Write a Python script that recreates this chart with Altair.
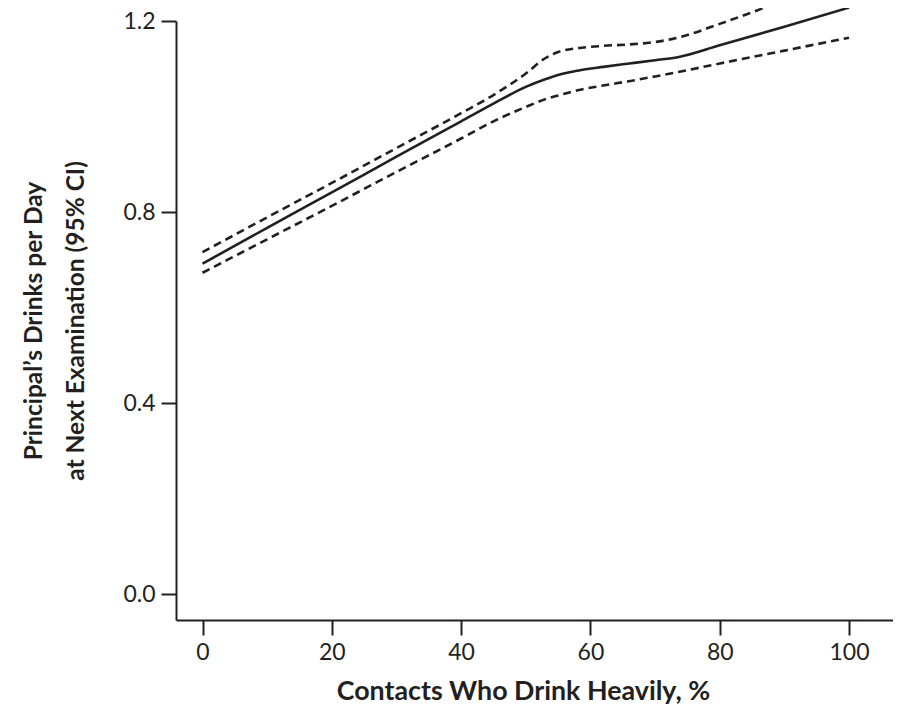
import altair as alt
import pandas as pd

x_vals = [0, 10, 20, 30, 40, 45, 50, 53, 55, 58, 62, 66, 70, 73.5, 80, 90, 100]
mean_vals = [0.692, 0.767, 0.841, 0.916, 0.990, 1.027, 1.062, 1.078, 1.087, 1.096,
             1.104, 1.111, 1.118, 1.124, 1.149, 1.188, 1.228]
upper_vals = [0.716, 0.789, 0.861, 0.934, 1.007, 1.045, 1.090, 1.122, 1.135, 1.143,
              1.148, 1.151, 1.156, 1.165, 1.194, 1.243, 1.290]
lower_vals = [0.673, 0.743, 0.813, 0.884, 0.954, 0.990, 1.020, 1.036, 1.044, 1.055,
              1.065, 1.074, 1.084, 1.093, 1.111, 1.138, 1.165]

x_ticks = [0, 20, 40, 60, 80, 100]
y_ticks = [0.0, 0.4, 0.8, 1.2]

rows = []
for name, vals in [("mean", mean_vals), ("upper", upper_vals), ("lower", lower_vals)]:
    for xv, yv in zip(x_vals, vals):
        rows.append({"x": xv, "y": yv, "series": name})
df = pd.DataFrame(rows)

ink = "#231f20"
font = "Lato"

x_enc = alt.X("x:Q", scale=alt.Scale(domain=[-4.1, 106.8], nice=False, zero=False),
              axis=alt.Axis(values=x_ticks, title="Contacts Who Drink Heavily, %", format="d",
                            grid=False, tickSize=15, tickWidth=2, domainWidth=2,
                            domainColor=ink, tickColor=ink, labelColor=ink, titleColor=ink,
                            labelFont=font, labelFontSize=23, labelPadding=6,
                            titleFont=font, titleFontSize=26.8, titleFontWeight="bold",
                            titlePadding=14, titleX=347))
y_enc = alt.Y("y:Q", scale=alt.Scale(domain=[-0.054, 1.2], nice=False, zero=False),
              axis=alt.Axis(values=y_ticks, format=".1f",
                            title=["Principal\u2019s Drinks per Day", "at Next Examination (95% CI)"],
                            grid=False, tickSize=15, tickWidth=2, domainWidth=2,
                            domainColor=ink, tickColor=ink, labelColor=ink, titleColor=ink,
                            labelFont=font, labelFontSize=23, labelPadding=6,
                            titleFont=font, titleFontSize=24.5, titleFontWeight="bold",
                            titleLineHeight=42, titlePadding=34))

base = alt.Chart(df)
solid = base.transform_filter(alt.datum.series == "mean").mark_line(
    color=ink, strokeWidth=2.6, interpolate="monotone", clip=False
).encode(x=x_enc, y=y_enc)
dashed = base.transform_filter(alt.datum.series != "mean").mark_line(
    color=ink, strokeWidth=2.6, strokeDash=[8, 5], interpolate="monotone", clip=False
).encode(x=x_enc, y=y_enc, detail="series:N")

chart = alt.layer(solid, dashed).properties(
    width=717, height=599,
    autosize=alt.AutoSizeParams(type="none"),
    padding={"left": 168, "top": 13, "right": 0, "bottom": 88},
).configure_view(stroke=None)

chart.save("out.html", embed_options={"renderer": "svg", "actions": False})
